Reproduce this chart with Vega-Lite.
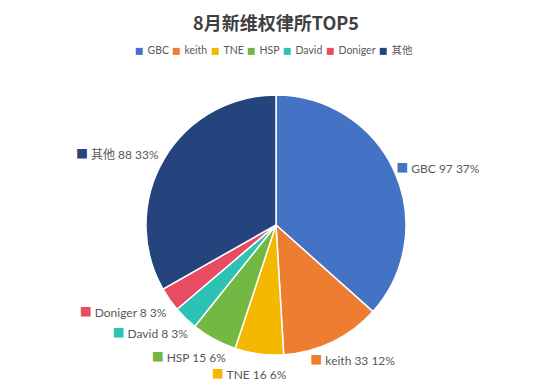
{
  "$schema": "https://vega.github.io/schema/vega-lite/v6.json",
  "width": 552,
  "height": 392,
  "autosize": {"type": "none"},
  "padding": 0,
  "background": "white",
  "config": {"view": {"stroke": "#d9d9d9", "strokeWidth": 2}},
  "title": {"text": "8月新维权律所TOP5", "fontSize": 18, "fontWeight": "bold", "color": "#404040", "font": "Noto Sans CJK SC", "anchor": "middle", "offset": -34},
  "data": {"values": [
    {"i": 1, "name": "GBC", "value": 97, "label": "GBC 97 37%"},
    {"i": 2, "name": "keith", "value": 33, "label": "keith 33 12%"},
    {"i": 3, "name": "TNE", "value": 16, "label": "TNE 16 6%"},
    {"i": 4, "name": "HSP", "value": 15, "label": "HSP 15 6%"},
    {"i": 5, "name": "David", "value": 8, "label": "David 8 3%"},
    {"i": 6, "name": "Doniger", "value": 8, "label": "Doniger 8 3%"},
    {"i": 7, "name": "其他", "value": 88, "label": "其他 88 33%"}
  ]},
  "encoding": {
    "theta": {"field": "value", "type": "quantitative", "stack": true},
    "order": {"field": "i", "type": "quantitative"}
  },
  "layer": [
    {
      "mark": {"type": "arc", "outerRadius": 130, "stroke": "white", "strokeWidth": 1.5, "y": {"expr": "height/2+29"}},
      "encoding": {
        "color": {
          "field": "name", "type": "nominal",
          "scale": {"domain": ["GBC", "keith", "TNE", "HSP", "David", "Doniger", "其他"],
                    "range": ["#4472C4", "#ED7D31", "#F4B800", "#72B843", "#2EC2B4", "#E84C62", "#25437D"]},
          "legend": {
            "orient": "none", "legendX": 134, "legendY": 46, "direction": "horizontal", "columns": 7,
            "title": null, "symbolType": "square", "symbolSize": 49, "symbolStrokeWidth": 0,
            "labelFont": "Lato, Noto Sans CJK SC", "labelFontSize": 10.5, "labelColor": "#595959",
            "labelOffset": 3, "columnPadding": 2
          }
        }
      }
    },
    {
      "transform": [
        {"joinaggregate": [{"op": "sum", "field": "value", "as": "total"}]},
        {"window": [{"op": "sum", "field": "value", "as": "cum"}], "sort": [{"field": "i"}], "frame": [null, 0]},
        {"calculate": "sin(2*PI*(datum.cum - datum.value/2)/datum.total)", "as": "s"},
        {"calculate": "cos(2*PI*(datum.cum - datum.value/2)/datum.total)", "as": "c"},
        {"calculate": "datum.s > 0 ? '■' : '■   ' + datum.label", "as": "full"}
      ],
      "layer": [
        {
          "mark": {"type": "text", "radius": 140, "y": {"expr": "height/2+29"}, "font": "Lato, Noto Sans CJK SC", "fontSize": 12, "baseline": "middle",
                   "align": {"expr": "datum.s > 0 ? 'left' : 'right'"},
                   "dx": {"expr": "datum.s > 0 ? -4 - 40*(1-datum.s) : 34*(1+datum.s) - 1"},
                   "dy": {"expr": "-7*datum.c + 4"}},
          "encoding": {"text": {"field": "full"}, "color": {"field": "name", "type": "nominal", "legend": null}}
        },
        {
          "mark": {"type": "text", "radius": 140, "y": {"expr": "height/2+29"}, "font": "Lato, Noto Sans CJK SC", "fontSize": 12, "baseline": "middle",
                   "fill": "white", "stroke": "white", "strokeWidth": 2,
                   "align": {"expr": "datum.s > 0 ? 'left' : 'right'"},
                   "dx": {"expr": "datum.s > 0 ? -4 - 40*(1-datum.s) + 15 : 34*(1+datum.s) - 1"},
                   "dy": {"expr": "-7*datum.c + 4"}},
          "encoding": {"text": {"field": "label"}}
        },
        {
          "mark": {"type": "text", "radius": 140, "y": {"expr": "height/2+29"}, "font": "Lato, Noto Sans CJK SC", "fontSize": 12, "baseline": "middle",
                   "fill": "#595959",
                   "align": {"expr": "datum.s > 0 ? 'left' : 'right'"},
                   "dx": {"expr": "datum.s > 0 ? -4 - 40*(1-datum.s) + 15 : 34*(1+datum.s) - 1"},
                   "dy": {"expr": "-7*datum.c + 4"}},
          "encoding": {"text": {"field": "label"}}
        }
      ]
    }
  ]
}
